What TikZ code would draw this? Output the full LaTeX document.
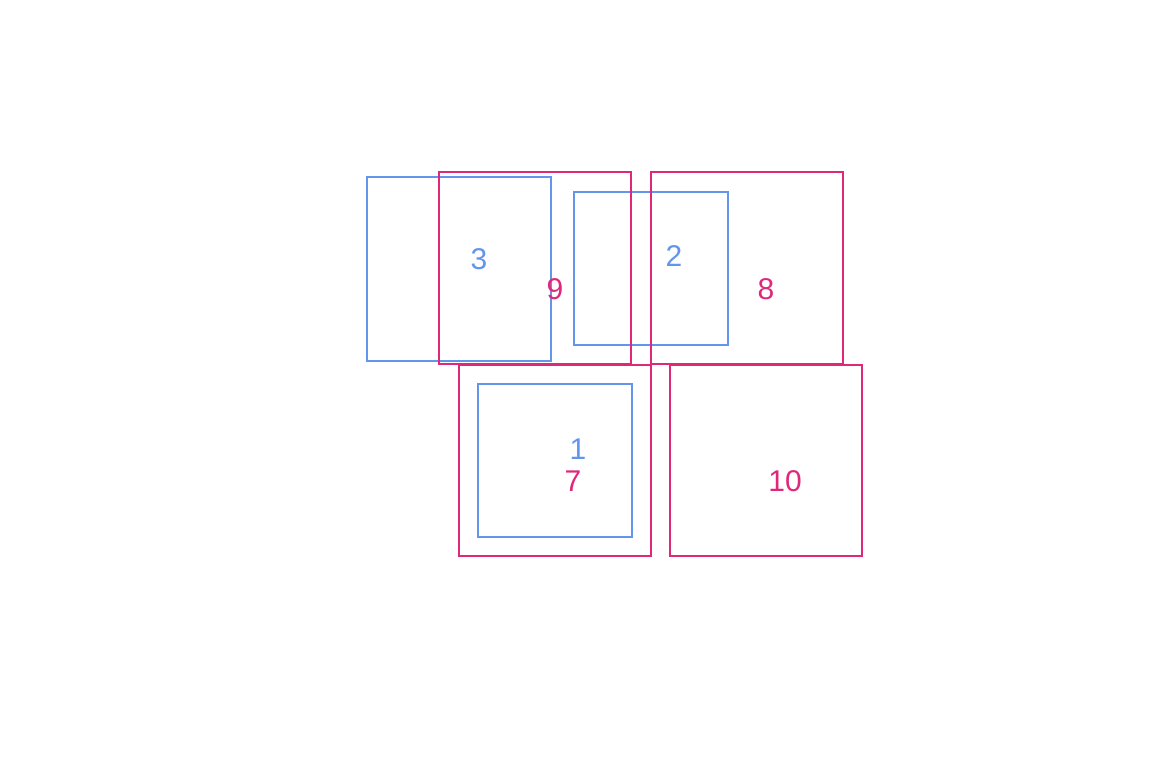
\documentclass[tikz,border=0pt]{standalone}
\usepackage{fontspec}
\setmainfont{Liberation Sans}
\definecolor{cblue}{HTML}{6495ED}
\definecolor{cmag}{HTML}{E0287A}
\tikzset{
  bluebox/.style={draw=cblue, line width=1.5pt, inner sep=0pt, outer sep=0pt},
  magbox/.style={draw=cmag, line width=1.5pt, inner sep=0pt, outer sep=0pt},
  bluelbl/.style={text=cblue, font=\fontsize{30}{30}\selectfont, inner sep=0pt},
  maglbl/.style={text=cmag, font=\fontsize{30}{30}\selectfont, inner sep=0pt}
}
\begin{document}
\begin{tikzpicture}[x=1pt,y=-1pt]
\useasboundingbox (0,0) rectangle (1152,768);
\fill[white] (0,0) rectangle (1152,768);
% blue boxes
\node[bluebox, minimum width=184pt, minimum height=184pt] (b3) at (459,269) {};
\node[bluebox, minimum width=154pt, minimum height=153pt] (b2) at (651,268.5) {};
\node[bluebox, minimum width=154pt, minimum height=153pt] (b1) at (555,460.5) {};
% magenta boxes
\node[magbox, minimum width=192pt, minimum height=192pt] (m9) at (535,268) {};
\node[magbox, minimum width=192pt, minimum height=192pt] (m8) at (747,268) {};
\node[magbox, minimum width=192pt, minimum height=191pt] (m7) at (555,460.5) {};
\node[magbox, minimum width=192pt, minimum height=191pt] (m10) at (766,460.5) {};
% labels
\node[bluelbl] (l3) at (479,259) {3};
\node[bluelbl] (l2) at (674,256) {2};
\node[bluelbl] (l1) at (578,449) {1};
\node[maglbl] (l9) at (555,289) {9};
\node[maglbl] (l8) at (766,289) {8};
\node[maglbl] (l7) at (573,481) {7};
\node[maglbl] (l10) at (785,481) {10};
\end{tikzpicture}
\end{document}
